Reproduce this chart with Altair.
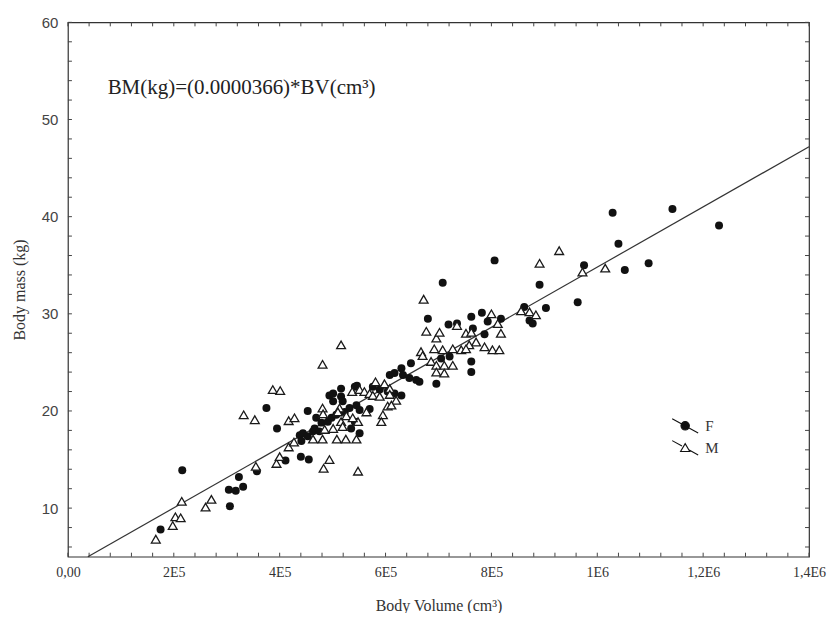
import altair as alt
import pandas as pd

# ---------------- data (body volume in units of 1E5 cm3, body mass in kg) ----------------
f_vol = [1.75, 2.16, 3.06, 3.04, 3.17, 3.31, 3.23, 3.57, 4.11, 3.95, 3.75, 4.53, 4.40, 4.55,
         4.38, 4.41, 4.44, 4.53, 4.63, 4.66, 4.75, 4.69, 4.79, 4.91, 4.98, 4.94, 5.01, 5.01,
         5.16, 5.16, 5.19, 5.42, 5.46, 5.07, 5.23, 5.32, 5.45, 5.51, 5.35, 5.42, 5.51, 5.70,
         5.76, 5.89, 6.04, 6.17, 6.30, 6.08, 6.17, 6.30, 6.33, 6.45, 6.48, 6.58, 6.64, 6.96,
         6.80, 7.08, 7.05, 7.21, 7.19, 7.35, 7.62, 7.65, 7.62, 7.62, 7.82, 7.93, 8.18, 7.87,
         8.06, 8.62, 8.72, 8.78, 8.91, 9.03, 9.63, 9.75, 10.29, 10.40, 10.52, 10.97, 11.42, 12.30]
f_mass = [7.8, 13.9, 10.2, 11.9, 11.8, 12.2, 13.2, 13.8, 14.9, 18.2, 20.3, 20.0, 15.3, 15.0,
          17.5, 16.9, 17.7, 17.4, 17.9, 18.2, 17.9, 19.3, 18.8, 18.9, 19.3, 21.6, 21.8, 21.0,
          22.3, 21.5, 21.0, 22.5, 22.6, 19.6, 19.9, 20.3, 20.6, 20.1, 18.2, 18.9, 17.7, 20.2,
          22.5, 22.2, 22.0, 21.8, 21.6, 23.7, 23.9, 24.4, 23.7, 23.4, 24.9, 23.2, 23.0, 22.8,
          29.5, 33.2, 25.4, 25.6, 28.9, 29.0, 29.7, 28.5, 25.1, 24.0, 30.1, 29.2, 29.5, 27.9,
          35.5, 30.7, 29.3, 29.0, 33.0, 30.6, 31.2, 35.0, 40.4, 37.2, 34.5, 35.2, 40.8, 39.1]

m_vol = [1.66, 1.98, 2.03, 2.13, 2.15, 2.60, 2.71, 3.55, 3.94, 4.00, 3.53, 3.32, 3.87, 4.01,
         4.17, 4.28, 4.17, 4.27, 4.83, 4.94, 5.48, 4.63, 4.81, 5.08, 5.25, 5.45, 4.85, 5.01,
         5.16, 5.19, 5.48, 4.81, 4.82, 5.13, 5.10, 5.26, 5.38, 5.37, 5.51, 5.60, 5.70, 5.76,
         5.81, 5.98, 6.08, 5.89, 6.08, 6.20, 6.04, 6.11, 5.95, 5.64, 5.92, 4.81, 5.16, 6.72,
         6.77, 6.96, 7.02, 7.35, 7.52, 7.62, 7.71, 7.58, 6.67, 6.70, 6.92, 7.08, 7.27, 7.43,
         7.52, 6.86, 6.96, 7.11, 7.27, 6.96, 7.11, 7.87, 8.02, 8.15, 8.18, 8.00, 8.12, 8.56,
         8.72, 8.84, 8.91, 9.28, 9.72, 10.15]
m_mass = [6.8, 8.2, 9.1, 9.0, 10.7, 10.1, 10.9, 14.3, 14.6, 15.3, 19.1, 19.6, 22.2, 22.1,
          19.0, 19.3, 16.3, 16.8, 14.1, 15.0, 13.8, 17.1, 17.1, 17.1, 17.1, 17.1, 18.1, 18.2,
          18.9, 18.4, 18.9, 20.3, 19.7, 20.3, 19.9, 19.5, 19.3, 22.0, 22.2, 22.0, 21.8, 21.6,
          23.0, 22.8, 22.3, 21.5, 21.7, 21.1, 20.5, 20.6, 19.6, 19.9, 18.9, 24.8, 26.8, 31.5,
          28.2, 27.5, 28.1, 28.8, 28.0, 28.1, 27.1, 26.8, 26.1, 25.7, 26.4, 26.3, 26.4, 26.3,
          26.4, 25.1, 24.7, 24.7, 24.7, 24.0, 23.9, 26.6, 26.3, 26.3, 28.0, 30.0, 29.0, 30.3,
          30.2, 29.9, 35.2, 36.5, 34.3, 34.7]

fit_vol = [0.377, 14.0]
fit_mass = [5.0, 47.2]

x_tick_values = [0, 200000, 400000, 600000, 800000, 1000000, 1200000, 1400000]
x_tick_labels = ["0,00", "2E5", "4E5", "6E5", "8E5", "1E6", "1,2E6", "1,4E6"]
y_tick_values = [10, 20, 30, 40, 50, 60]
x_minor_ticks = list(range(0, 1400001, 40000))
y_minor_ticks = list(range(6, 61, 2))

equation_text = ["BM(kg)=(0.0000366)*BV(cm\u00b3)"]
equation_vol = [0.75]
equation_mass = [53.2]

sex_labels = ["F", "M"]

# ---------------- layout / style ----------------
W, H = 742, 535
X_DOM = [0, 1400000]
Y_DOM = [5, 60]
SERIF = "Liberation Serif"
SANS = "Liberation Sans"
TICK_PX = 4
x_tick_len = TICK_PX * (X_DOM[1] - X_DOM[0]) / W
y_tick_len = TICK_PX * (Y_DOM[1] - Y_DOM[0]) / H

pts = pd.DataFrame({
    "volume": [v * 1e5 for v in f_vol + m_vol],
    "mass": f_mass + m_mass,
    "sex": ["F"] * len(f_vol) + ["M"] * len(m_vol),
})
fit = pd.DataFrame({"volume": [v * 1e5 for v in fit_vol], "mass": fit_mass})
eq = pd.DataFrame({"volume": [v * 1e5 for v in equation_vol], "mass": equation_mass,
                   "label": equation_text})

xs = alt.Scale(domain=X_DOM, nice=False, zero=False)
ys = alt.Scale(domain=Y_DOM, nice=False, zero=False)

label_expr = " : ".join(f"datum.value == {v} ? '{l}'" for v, l in zip(x_tick_values, x_tick_labels)) + " : ''"

x_axis = alt.Axis(values=x_tick_values, labelExpr=label_expr, title="Body Volume (cm\u00b3)",
                  grid=False, ticks=False, domain=False, labelFont=SERIF, labelFontSize=14,
                  labelColor="#333", labelPadding=9, titleFont=SERIF, titleFontSize=16,
                  titleFontWeight="normal", titleColor="#333", titlePadding=18,
                  labelFlush=False, labelOverlap=False)
y_axis = alt.Axis(values=y_tick_values, title="Body mass (kg)", grid=False, ticks=False,
                  domain=False, labelFont=SANS, labelFontSize=15, labelColor="#444",
                  labelPadding=10, titleFont=SERIF, titleFontSize=16, titleFontWeight="normal",
                  titleColor="#333", titlePadding=14, labelFlush=False, labelOverlap=False)


def X(field="volume"):
    return alt.X(f"{field}:Q", scale=xs, axis=x_axis)


def Y(field="mass"):
    return alt.Y(f"{field}:Q", scale=ys, axis=y_axis)


# inward ticks on all four sides
bt = pd.DataFrame({"volume": x_minor_ticks, "y0": Y_DOM[0], "y1": Y_DOM[0] + y_tick_len})
tt = pd.DataFrame({"volume": x_minor_ticks, "y0": Y_DOM[1], "y1": Y_DOM[1] - y_tick_len})
lt = pd.DataFrame({"mass": y_minor_ticks, "x0": X_DOM[0], "x1": X_DOM[0] + x_tick_len})
rt = pd.DataFrame({"mass": y_minor_ticks, "x0": X_DOM[1], "x1": X_DOM[1] - x_tick_len})

tick_style = dict(color="#444", strokeWidth=1)
ticks_b = alt.Chart(bt).mark_rule(**tick_style).encode(x=X(), y=Y("y0"), y2="y1:Q")
ticks_t = alt.Chart(tt).mark_rule(**tick_style).encode(x=X(), y=Y("y0"), y2="y1:Q")
ticks_l = alt.Chart(lt).mark_rule(**tick_style).encode(y=Y(), x=X("x0"), x2="x1:Q")
ticks_r = alt.Chart(rt).mark_rule(**tick_style).encode(y=Y(), x=X("x0"), x2="x1:Q")

line = alt.Chart(fit).mark_line(color="#333", strokeWidth=1.2).encode(x=X(), y=Y())

f_pts = alt.Chart(pts).transform_filter("datum.sex == 'F'").mark_point(
    shape="circle", filled=True, color="#111", size=64, opacity=1).encode(x=X(), y=Y())
m_pts = alt.Chart(pts).transform_filter("datum.sex == 'M'").mark_point(
    shape="triangle-up", filled=True, fill="#ffffff", stroke="#1a1a1a", strokeWidth=1.3,
    size=78, opacity=1).encode(x=X(), y=Y())

text = alt.Chart(eq).mark_text(align="left", baseline="middle", font=SERIF, fontSize=21,
                               color="#222").encode(x=X(), y=Y(), text="label:N")

PATH_F = "M-1.3,-0.72L1.3,0.72M0.42,0A0.42,0.42 0 1,1 -0.42,0A0.42,0.42 0 1,1 0.42,0Z"
PATH_M = "M-1.3,-0.72L-0.32,-0.18M0.36,0.2L1.3,0.72M0,-0.42L0.46,0.36L-0.46,0.36Z"

leg = alt.Legend(title=None, orient="none", legendX=607, legendY=393, symbolSize=400,
                 labelFont=SERIF, labelFontSize=15, labelColor="#333", labelOffset=9,
                 rowPadding=1, symbolStrokeWidth=1.1, symbolOpacity=1)
legend_layer = alt.Chart(pts).transform_filter("false").mark_point(
    filled=True, strokeWidth=1.1).encode(
    shape=alt.Shape("sex:N", scale=alt.Scale(domain=sex_labels, range=[PATH_F, PATH_M]), legend=leg),
    fill=alt.Fill("sex:N", scale=alt.Scale(domain=sex_labels, range=["#111111", "#ffffff"]), legend=leg),
    stroke=alt.Stroke("sex:N", scale=alt.Scale(domain=sex_labels, range=["#111111", "#111111"]), legend=leg),
)

chart = alt.layer(ticks_b, ticks_t, ticks_l, ticks_r, line, f_pts, m_pts, text, legend_layer).properties(
    width=W, height=H,
    autosize=alt.AutoSizeParams(type="none"),
    padding={"left": 60, "top": 14, "right": 20, "bottom": 56},
    background="white",
).configure_view(stroke="#333", strokeWidth=1.2)

chart.save("out.html", embed_options={"renderer": "svg", "actions": False})
